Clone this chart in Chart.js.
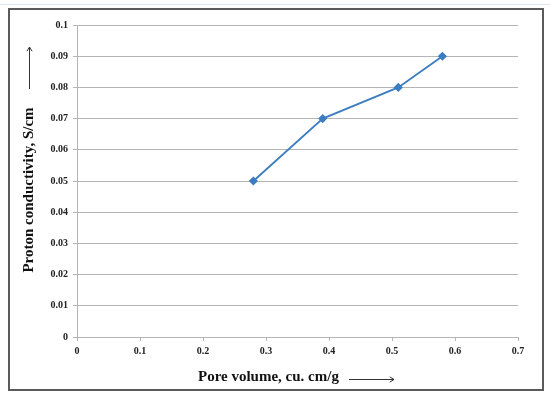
<!DOCTYPE html>
<html lang="en">
<head>
    <meta charset="UTF-8" />
    <title>Proton conductivity vs pore volume</title>
    <script src="https://cdn.jsdelivr.net/npm/chart.js"></script>
    <style>
        body { margin: 0; background: #fff; }
        .topline { position: absolute; left: 0; top: 4px; width: 550px; height: 1px; background: #dfe8f1; }
        .frame {
            position: absolute; left: 8px; top: 8px;
            width: 532px; height: 379px;
            border: 2px solid #5a5a5a;
            background: #fff;
        }
    </style>
</head>
<body>
<div class="topline"></div>
<div class="frame">
    <canvas id="poreChart" width="532" height="379"></canvas>
</div>

<script>
    // data
    const poreVolume = [0.28, 0.39, 0.51, 0.58];
    const conductivity = [0.05, 0.07, 0.08, 0.09];

    const xTickValues = [0, 0.1, 0.2, 0.3, 0.4, 0.5, 0.6, 0.7];
    const xTickLabels = ["0", "0.1", "0.2", "0.3", "0.4", "0.5", "0.6", "0.7"];
    const yTickValues = [0, 0.01, 0.02, 0.03, 0.04, 0.05, 0.06, 0.07, 0.08, 0.09, 0.1];
    const yTickLabels = ["0", "0.01", "0.02", "0.03", "0.04", "0.05", "0.06", "0.07", "0.08", "0.09", "0.1"];

    const xTitle = "Pore volume, cu. cm/g";
    const yTitle = "Proton conductivity, S/cm";

    const lineColor = "#3b7dc0";
    const gridColor = "#b5b5b5";
    const tickFont = { family: "Liberation Serif", size: 10, weight: "bold" };

    // axis titles with the long arrows beside them
    const axisTitles = {
        id: "axisTitles",
        afterDraw(chart) {
            const ctx = chart.ctx;
            ctx.save();
            ctx.font = "bold 15px 'Liberation Serif'";
            ctx.fillStyle = "#111";
            ctx.textBaseline = "middle";

            // x title
            ctx.textAlign = "left";
            ctx.fillText(xTitle, 188, 367);

            // y title (rotated)
            ctx.translate(19, 180);
            ctx.rotate(-Math.PI / 2);
            ctx.textAlign = "center";
            ctx.fillText(yTitle, 0, 0);
            ctx.restore();

            ctx.save();
            ctx.strokeStyle = "#333";
            ctx.lineWidth = 1;
            drawArrow(ctx, 339, 369.5, 384, 369.5);
            drawArrow(ctx, 19.5, 79, 19.5, 37);
            ctx.restore();
        }
    };

    function drawArrow(ctx, x1, y1, x2, y2) {
        const a = Math.atan2(y2 - y1, x2 - x1);
        ctx.beginPath();
        ctx.moveTo(x1, y1);
        ctx.lineTo(x2, y2);
        ctx.moveTo(x2 - 5 * Math.cos(a - 0.55), y2 - 5 * Math.sin(a - 0.55));
        ctx.lineTo(x2, y2);
        ctx.lineTo(x2 - 5 * Math.cos(a + 0.55), y2 - 5 * Math.sin(a + 0.55));
        ctx.stroke();
    }

    const ctx = document.getElementById("poreChart").getContext("2d");
    new Chart(ctx, {
        type: "scatter",
        data: {
            datasets: [
                {
                    data: poreVolume.map((x, i) => ({ x: x, y: conductivity[i] })),
                    showLine: true,
                    borderColor: lineColor,
                    backgroundColor: lineColor,
                    borderWidth: 1.8,
                    pointStyle: "rectRot",
                    pointRadius: 3.3,
                    pointHoverRadius: 3.3,
                },
            ],
        },
        options: {
            responsive: false,
            animation: false,
            layout: { padding: { left: 0, top: 15, right: 24, bottom: 0 } },
            plugins: {
                legend: { display: false },
                tooltip: { enabled: false },
            },
            scales: {
                x: {
                    type: "linear",
                    min: 0,
                    max: 0.7,
                    afterBuildTicks: (s) => { s.ticks = xTickValues.map((v) => ({ value: v })); },
                    afterFit: (s) => { s.height = 52; },
                    ticks: {
                        font: tickFont,
                        color: "#222",
                        padding: 4,
                        maxRotation: 0,
                        callback: (v, i) => xTickLabels[i],
                    },
                    grid: { drawOnChartArea: false, tickLength: 4, color: gridColor },
                    border: { color: gridColor },
                },
                y: {
                    min: 0,
                    max: 0.1,
                    afterBuildTicks: (s) => { s.ticks = yTickValues.map((v) => ({ value: v })); },
                    afterFit: (s) => { s.width = 67; },
                    ticks: {
                        font: tickFont,
                        color: "#222",
                        padding: 5,
                        callback: (v, i) => yTickLabels[i],
                    },
                    grid: { tickLength: 4, color: gridColor },
                    border: { color: gridColor },
                },
            },
        },
        plugins: [axisTitles],
    });
</script>
</body>
</html>
